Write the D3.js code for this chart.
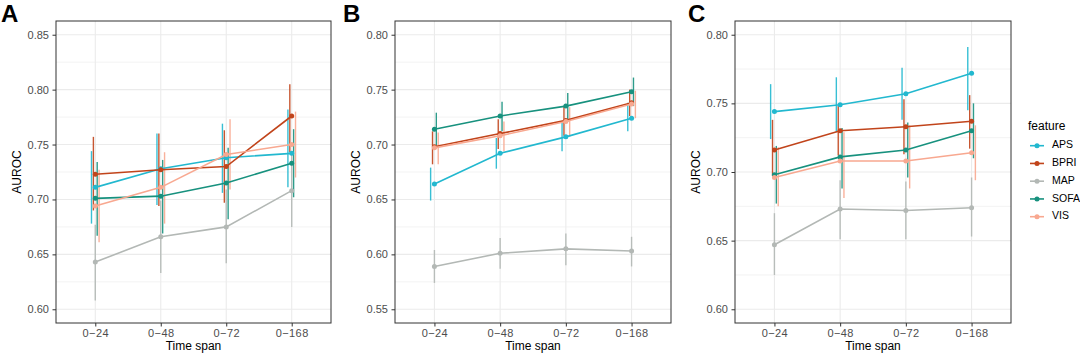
<!DOCTYPE html>
<html>
<head>
<meta charset="utf-8">
<script src="https://cdn.jsdelivr.net/npm/d3@7"></script>
<style>
  html, body { margin: 0; padding: 0; background: #fff; }
  svg { display: block; }
</style>
</head>
<body>
<div id="chart"></div>
<script>
// ---------- data ----------
const timeSpans = ["0\u221224", "0\u221248", "0\u221272", "0\u2212168"];
const features = ["APS", "BPRI", "MAP", "SOFA", "VIS"];
const featureColors = ["#22b8cf", "#c1441b", "#b3b8b5", "#17917e", "#f8a890"];

// panel A
const aMean = {
    APS:  [0.711, 0.728, 0.738, 0.742],
    BPRI: [0.723, 0.727, 0.730, 0.776],
    MAP:  [0.643, 0.666, 0.675, 0.708],
    SOFA: [0.701, 0.703, 0.715, 0.733],
    VIS:  [0.694, 0.711, 0.741, 0.750]
};
const aLow = {
    APS:  [0.678, 0.695, 0.706, 0.711],
    BPRI: [0.690, 0.694, 0.697, 0.743],
    MAP:  [0.608, 0.633, 0.642, 0.675],
    SOFA: [0.667, 0.669, 0.682, 0.702],
    VIS:  [0.661, 0.678, 0.709, 0.720]
};
const aHigh = {
    APS:  [0.744, 0.760, 0.769, 0.782],
    BPRI: [0.757, 0.760, 0.763, 0.805],
    MAP:  [0.677, 0.699, 0.709, 0.741],
    SOFA: [0.734, 0.736, 0.747, 0.764],
    VIS:  [0.727, 0.743, 0.773, 0.780]
};

// panel B
const bMean = {
    APS:  [0.664, 0.692, 0.707, 0.724],
    BPRI: [0.698, 0.710, 0.722, 0.738],
    MAP:  [0.589, 0.601, 0.605, 0.603],
    SOFA: [0.714, 0.726, 0.735, 0.748],
    VIS:  [0.697, 0.708, 0.721, 0.737]
};
const bLow = {
    APS:  [0.649, 0.678, 0.694, 0.712],
    BPRI: [0.682, 0.696, 0.708, 0.726],
    MAP:  [0.574, 0.587, 0.590, 0.589],
    SOFA: [0.699, 0.712, 0.721, 0.735],
    VIS:  [0.682, 0.694, 0.707, 0.724]
};
const bHigh = {
    APS:  [0.679, 0.706, 0.720, 0.738],
    BPRI: [0.712, 0.723, 0.735, 0.750],
    MAP:  [0.604, 0.615, 0.619, 0.616],
    SOFA: [0.729, 0.739, 0.747, 0.761],
    VIS:  [0.711, 0.721, 0.734, 0.749]
};

// panel C
const cMean = {
    APS:  [0.744, 0.749, 0.757, 0.772],
    BPRI: [0.716, 0.730, 0.733, 0.737],
    MAP:  [0.647, 0.673, 0.672, 0.674],
    SOFA: [0.698, 0.711, 0.716, 0.730],
    VIS:  [0.696, 0.708, 0.708, 0.714]
};
const cLow = {
    APS:  [0.724, 0.729, 0.738, 0.745],
    BPRI: [0.697, 0.712, 0.713, 0.717],
    MAP:  [0.625, 0.651, 0.651, 0.653],
    SOFA: [0.677, 0.688, 0.696, 0.710],
    VIS:  [0.675, 0.681, 0.688, 0.694]
};
const cHigh = {
    APS:  [0.764, 0.769, 0.776, 0.791],
    BPRI: [0.738, 0.748, 0.753, 0.756],
    MAP:  [0.670, 0.694, 0.693, 0.696],
    SOFA: [0.719, 0.732, 0.736, 0.750],
    VIS:  [0.718, 0.729, 0.734, 0.734]
};

const yLimitsA = [0.60, 0.85];
const yLimitsB = [0.55, 0.80];
const yLimitsC = [0.60, 0.80];

// ---------- layout ----------
const width = 1080, height = 354;
const fontFamily = "'Liberation Sans', Arial, sans-serif";
const gridColor = "#ebebeb";
const plotTop = 21, plotBottom = 323;

const svg = d3.select("#chart").append("svg")
    .attr("width", width)
    .attr("height", height)
    .attr("viewBox", `0 0 ${width} ${height}`);

const color = d3.scaleOrdinal().domain(features).range(featureColors);

function drawPanel(cfg) {
    const { left, right, letter, letterX, mean, low, high, limits } = cfg;

    // ggplot-style 5% expansion around the limits
    const span = limits[1] - limits[0];
    const y = d3.scaleLinear()
        .domain([limits[0] - span * 0.05, limits[1] + span * 0.05])
        .range([plotBottom, plotTop]);
    const x = d3.scalePoint().domain(timeSpans).range([left, right]).padding(0.6);
    const dodge = d3.scalePoint().domain(features).range([-3.8, 3.8]);

    const g = svg.append("g");

    // panel background + grid
    g.append("rect")
        .attr("x", left).attr("y", plotTop)
        .attr("width", right - left).attr("height", plotBottom - plotTop)
        .attr("fill", "#fff");

    const majorTicks = d3.range(limits[0], limits[1] + 1e-9, 0.05);
    const minorTicks = d3.range(limits[0] - 0.025, limits[1] + 0.03, 0.05)
        .filter(v => v > y.domain()[0] && v < y.domain()[1]);

    g.selectAll(".minor").data(minorTicks).join("line")
        .attr("x1", left).attr("x2", right)
        .attr("y1", d => y(d)).attr("y2", d => y(d))
        .attr("stroke", gridColor).attr("stroke-width", 0.6);
    g.selectAll(".major").data(majorTicks).join("line")
        .attr("x1", left).attr("x2", right)
        .attr("y1", d => y(d)).attr("y2", d => y(d))
        .attr("stroke", gridColor).attr("stroke-width", 1.1);
    g.selectAll(".vgrid").data(timeSpans).join("line")
        .attr("x1", d => x(d)).attr("x2", d => x(d))
        .attr("y1", plotTop).attr("y2", plotBottom)
        .attr("stroke", gridColor).attr("stroke-width", 1.1);

    // error bars (dodged), then lines and points
    features.forEach(f => {
        g.selectAll(null).data(timeSpans).join("line")
            .attr("x1", d => x(d) + dodge(f)).attr("x2", d => x(d) + dodge(f))
            .attr("y1", (d, i) => y(low[f][i])).attr("y2", (d, i) => y(high[f][i]))
            .attr("stroke", color(f)).attr("stroke-width", 1.4)
            .attr("stroke-opacity", 0.9);
    });

    const line = d3.line().x(d => x(d.t)).y(d => y(d.v));
    features.forEach(f => {
        const pts = timeSpans.map((t, i) => ({ t, v: mean[f][i] }));
        g.append("path")
            .attr("d", line(pts))
            .attr("fill", "none")
            .attr("stroke", color(f)).attr("stroke-width", 1.6);
        g.selectAll(null).data(pts).join("circle")
            .attr("cx", d => x(d.t)).attr("cy", d => y(d.v))
            .attr("r", 2.5).attr("fill", color(f));
    });

    // border
    g.append("rect")
        .attr("x", left).attr("y", plotTop)
        .attr("width", right - left).attr("height", plotBottom - plotTop)
        .attr("fill", "none").attr("stroke", "#333").attr("stroke-width", 1);

    // axes
    const yAxis = g.append("g")
        .attr("transform", `translate(${left},0)`)
        .call(d3.axisLeft(y).tickValues(majorTicks).tickFormat(d3.format(".2f")).tickSize(3.5).tickPadding(3.5));
    const xAxis = g.append("g")
        .attr("transform", `translate(0,${plotBottom})`)
        .call(d3.axisBottom(x).tickSize(3.5).tickPadding(2.5));
    [yAxis, xAxis].forEach(a => {
        a.select(".domain").remove();
        a.selectAll(".tick line").attr("stroke", "#333");
        a.selectAll(".tick text")
            .attr("fill", "#4d4d4d")
            .attr("font-family", fontFamily)
            .attr("font-size", "11px");
    });
    xAxis.selectAll(".tick text").attr("letter-spacing", "0.4px");

    g.append("text")
        .attr("x", (left + right) / 2).attr("y", 350)
        .attr("text-anchor", "middle")
        .attr("font-family", fontFamily).attr("font-size", "12px")
        .attr("fill", "#000")
        .text("Time span");

    g.append("text")
        .attr("transform", `translate(${left - 38},${(plotTop + plotBottom) / 2}) rotate(-90)`)
        .attr("text-anchor", "middle")
        .attr("dominant-baseline", "middle")
        .attr("font-family", fontFamily).attr("font-size", "12px")
        .attr("fill", "#000")
        .text("AUROC");

    g.append("text")
        .attr("x", letterX).attr("y", 22)
        .attr("font-family", fontFamily).attr("font-size", "24px")
        .attr("font-weight", "bold").attr("fill", "#000")
        .text(letter);

    return y;
}

drawPanel({ left: 56, right: 331, letter: "A", letterX: 1, mean: aMean, low: aLow, high: aHigh, limits: yLimitsA });
drawPanel({ left: 395, right: 671, letter: "B", letterX: 343, mean: bMean, low: bLow, high: bHigh, limits: yLimitsB });
drawPanel({ left: 735, right: 1011, letter: "C", letterX: 688, mean: cMean, low: cLow, high: cHigh, limits: yLimitsC });

// ---------- legend ----------
const legend = svg.append("g");
legend.append("text")
    .attr("x", 1028).attr("y", 130)
    .attr("font-family", fontFamily).attr("font-size", "12px")
    .attr("fill", "#000")
    .text("feature");

const legendY = d3.scalePoint().domain(features).range([145.7, 216.7]);
features.forEach(f => {
    const yy = legendY(f);
    legend.append("line")
        .attr("x1", 1030).attr("x2", 1044)
        .attr("y1", yy).attr("y2", yy)
        .attr("stroke", color(f)).attr("stroke-width", 1.6);
    legend.append("circle")
        .attr("cx", 1037).attr("cy", yy).attr("r", 2.5)
        .attr("fill", color(f));
    legend.append("text")
        .attr("x", 1052).attr("y", yy)
        .attr("dominant-baseline", "middle")
        .attr("font-family", fontFamily).attr("font-size", "10.5px")
        .attr("fill", "#000")
        .text(f);
});
</script>
</body>
</html>
